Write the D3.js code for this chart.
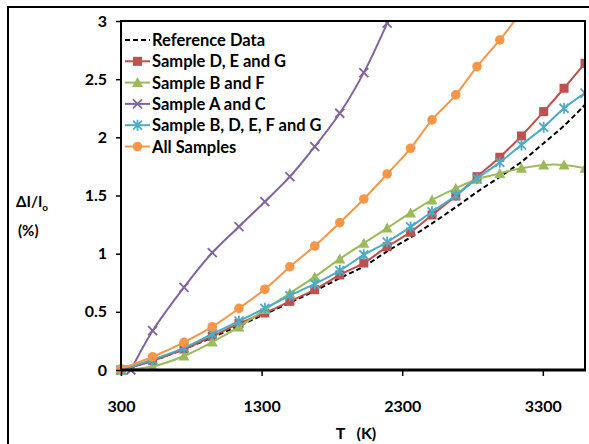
<!DOCTYPE html>
<html><head><meta charset="utf-8">
<script src="https://cdn.jsdelivr.net/npm/d3@7"></script>
<style>
body{margin:0;background:#fff}
text{font-family:Lato,'Liberation Sans',sans-serif;font-weight:700;fill:#000}
</style>
</head><body>
<svg id="c" width="589" height="444"></svg>
<script>
// ---- data ----
const temps = [300, 525, 748, 949, 1139, 1323, 1501, 1678, 1856, 2027, 2193, 2359, 2512, 2681, 2832, 2994, 3148, 3306, 3451, 3600];
const referenceData = [0, 0.08, 0.18, 0.28, 0.38, 0.48, 0.58, 0.68, 0.79, 0.89, 1.02, 1.14, 1.26, 1.40, 1.53, 1.66, 1.79, 1.95, 2.10, 2.28];
const sampleDEG = [0, 0.08, 0.18, 0.29, 0.40, 0.49, 0.59, 0.69, 0.817, 0.92, 1.06, 1.185, 1.333, 1.496, 1.662, 1.829, 2.012, 2.221, 2.422, 2.637];
const sampleBF = [0, 0.03, 0.12, 0.24, 0.37, 0.52, 0.66, 0.80, 0.955, 1.09, 1.22, 1.35, 1.462, 1.562, 1.64, 1.69, 1.734, 1.763, 1.763, 1.734];
const sampleACTemps = [370, 525, 748, 949, 1139, 1323, 1501, 1678, 1856, 2027, 2193, 2359];
const sampleAC = [0, 0.338, 0.711, 1.009, 1.232, 1.447, 1.662, 1.92, 2.207, 2.556, 2.981, 3.45];
const sampleBDEFG = [0, 0.09, 0.19, 0.31, 0.42, 0.53, 0.64, 0.74, 0.855, 0.99, 1.10, 1.23, 1.36, 1.50, 1.645, 1.785, 1.935, 2.087, 2.25, 2.38];
const allSamplesTemps = [300, 525, 748, 949, 1139, 1323, 1501, 1678, 1856, 2027, 2193, 2359, 2512, 2681, 2832, 2994, 3148];
const allSamples = [0.01, 0.114, 0.238, 0.372, 0.53, 0.694, 0.888, 1.066, 1.267, 1.47, 1.685, 1.906, 2.15, 2.365, 2.608, 2.837, 3.08];
const seriesNames = ["Reference Data", "Sample D, E and G", "Sample B and F", "Sample A and C", "Sample B, D, E, F and G", "All Samples"];
const xTicks = [300, 1300, 2300, 3300];
const yTicks = [0, 0.5, 1, 1.5, 2, 2.5, 3];

// ---- chart ----
const svg = d3.select("#c");
const L = 121, R = 585, T = 21, B = 370;
const x = d3.scaleLinear().domain([300, 3600]).range([L, R]);
const y = d3.scaleLinear().domain([0, 3]).range([B, T]);
const FONT = "Lato,'Liberation Sans',sans-serif";

// outer frame
svg.append("rect").attr("x", 8).attr("y", 7).attr("width", 600).attr("height", 460)
  .attr("fill", "none").attr("stroke", "#000").attr("stroke-width", 2);

svg.append("defs").append("clipPath").attr("id", "clip")
  .append("rect").attr("x", 100).attr("y", T).attr("width", R - 100).attr("height", 420 - T);

const series = [
  {name: seriesNames[1], t: temps, v: sampleDEG, color: "#C0504D", marker: "square"},
  {name: seriesNames[2], t: temps, v: sampleBF, color: "#9BBB59", marker: "triangle"},
  {name: seriesNames[3], t: sampleACTemps, v: sampleAC, color: "#8064A2", marker: "x"},
  {name: seriesNames[4], t: temps, v: sampleBDEFG, color: "#4BACC6", marker: "star"},
  {name: seriesNames[5], t: allSamplesTemps, v: allSamples, color: "#F79646", marker: "circle"}
];

const line = d3.line().x(d => x(d[0])).y(d => y(d[1])).curve(d3.curveCatmullRom.alpha(0.5));

function drawMarker(g, type, color) {
  if (type === "square") {
    g.append("rect").attr("x", -4.5).attr("y", -4.5).attr("width", 9).attr("height", 9).attr("fill", color);
  } else if (type === "triangle") {
    g.append("path").attr("d", "M0,-5.5L5.5,4.5L-5.5,4.5Z").attr("fill", color);
  } else if (type === "circle") {
    g.append("circle").attr("r", 4.8).attr("fill", color);
  } else if (type === "x") {
    g.append("path").attr("d", "M-4.5,-4.5L4.5,4.5M-4.5,4.5L4.5,-4.5").attr("stroke", color).attr("stroke-width", 1.8).attr("fill", "none");
  } else if (type === "star") {
    g.append("path").attr("d", "M-4.5,-4.5L4.5,4.5M-4.5,4.5L4.5,-4.5M0,-5.5L0,5.5").attr("stroke", color).attr("stroke-width", 1.8).attr("fill", "none");
  }
}

const plot = svg.append("g").attr("clip-path", "url(#clip)");

// reference dashed
plot.append("path")
  .attr("d", line(temps.map((t, i) => [t, referenceData[i]])))
  .attr("fill", "none").attr("stroke", "#000").attr("stroke-width", 2).attr("stroke-dasharray", "5,3");

series.forEach(s => {
  const pts = s.t.map((t, i) => [t, s.v[i]]);
  plot.append("path").attr("d", line(pts)).attr("fill", "none").attr("stroke", s.color).attr("stroke-width", 2);
  pts.forEach(p => {
    const g = plot.append("g").attr("transform", `translate(${x(p[0])},${y(p[1])})`);
    drawMarker(g, s.marker, s.color);
  });
});

// axes
const yAxis = svg.append("g").attr("transform", `translate(${L},0)`)
  .call(d3.axisLeft(y).tickValues(yTicks).tickSize(5).tickPadding(9).tickFormat(d => String(d)));
yAxis.select(".domain").remove();
yAxis.selectAll("line").attr("stroke", "#000").attr("stroke-width", 1.5);
yAxis.selectAll("text").style("font-size", "16px").style("font-family", FONT).style("font-weight", "700");

const xAxis = svg.append("g").attr("transform", `translate(0,${B})`)
  .call(d3.axisBottom(x).tickValues(xTicks).tickSize(6).tickPadding(25).tickFormat(d => String(d)));
xAxis.select(".domain").remove();
xAxis.selectAll("line").attr("stroke", "#000").attr("stroke-width", 1.5);
xAxis.selectAll("text").style("font-size", "16px").style("font-family", FONT).style("font-weight", "700");

// plot border
svg.append("rect").attr("x", L).attr("y", T).attr("width", R - L).attr("height", B - T)
  .attr("fill", "none").attr("stroke", "#000").attr("stroke-width", 2);
svg.append("line").attr("x1", L).attr("x2", R + 1).attr("y1", B).attr("y2", B).attr("stroke", "#000").attr("stroke-width", 3);

// axis titles
const yt = svg.append("text").attr("x", 16).attr("y", 207).style("font-size", "15px");
yt.append("tspan").text("ΔI/I");
yt.append("tspan").text("o").attr("dy", 4).style("font-size", "10px");
svg.append("text").attr("x", 18).attr("y", 236).style("font-size", "15px").text("(%)");
svg.append("text").attr("x", 356).attr("y", 439).attr("text-anchor", "middle").style("font-size", "16px").attr("xml:space", "preserve").text("T   (K)");

// legend
const leg = svg.append("g");
const legendItems = [{name: seriesNames[0], color: "#000", marker: null, dashed: true}].concat(series);
legendItems.forEach((s, i) => {
  const cy = 40 + i * 21.3;
  const g = leg.append("g").attr("transform", `translate(0,${cy})`);
  g.append("line").attr("x1", 125).attr("x2", 150).attr("y1", 0).attr("y2", 0)
    .attr("stroke", s.color).attr("stroke-width", 2).attr("stroke-dasharray", s.dashed ? "5,3" : null);
  if (s.marker) {
    const m = g.append("g").attr("transform", "translate(137.5,0)");
    drawMarker(m, s.marker, s.color);
  }
  g.append("text").attr("x", 152).attr("y", 6).style("font-size", "16.5px").text(s.name);
});
</script>
</body></html>
